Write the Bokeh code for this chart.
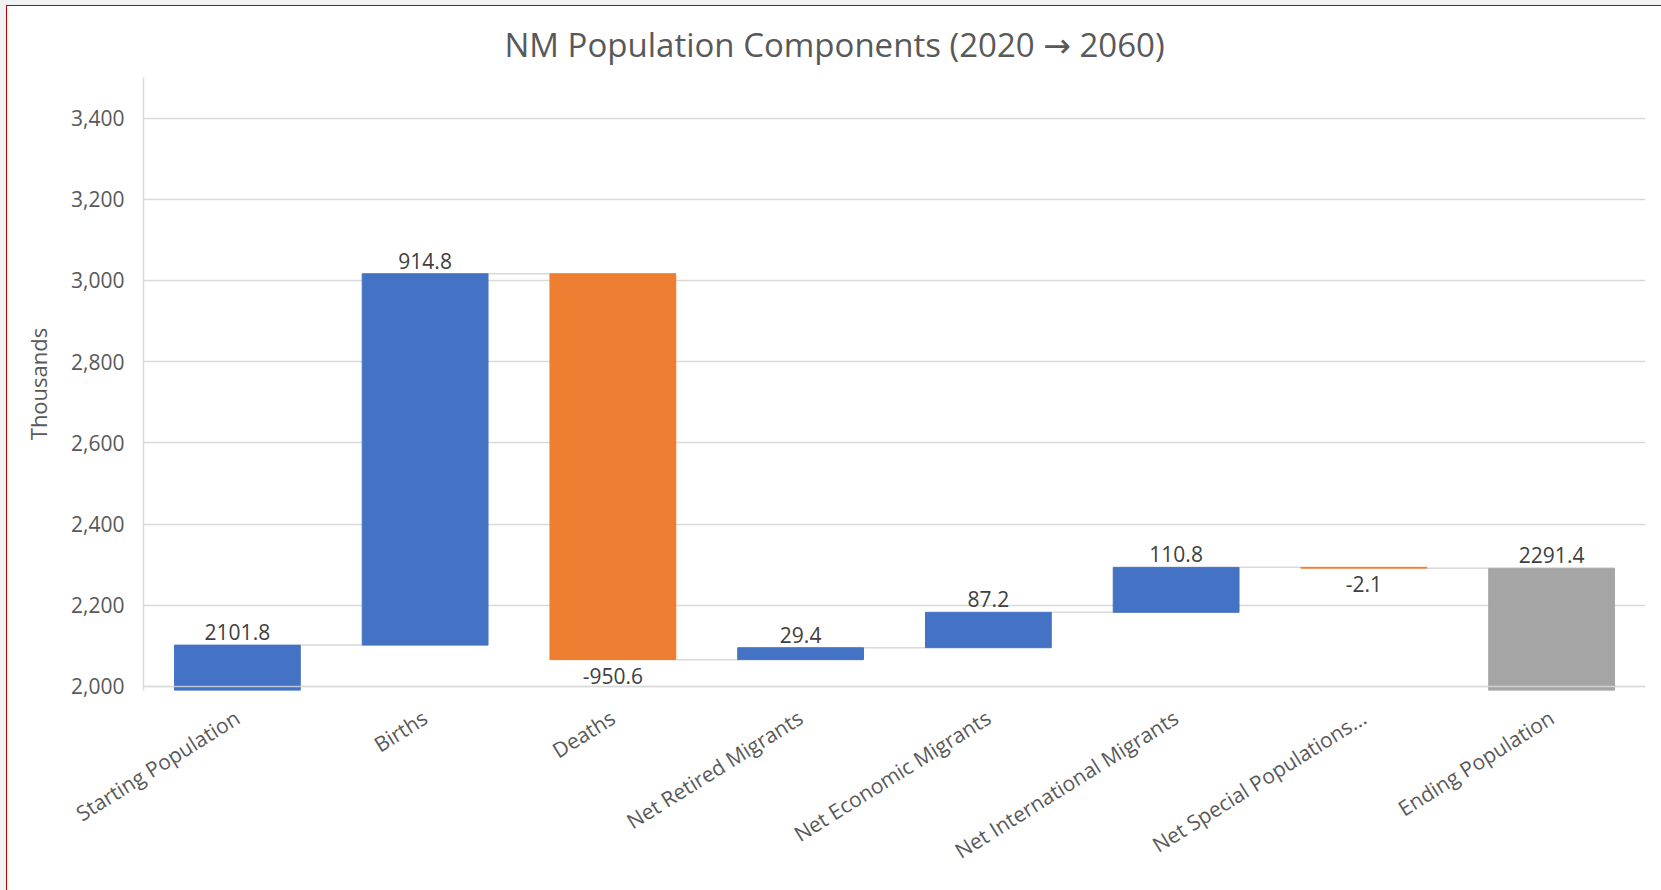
import math

from bokeh.plotting import figure
from bokeh.models import ColumnDataSource, NumeralTickFormatter, FixedTicker, Span
from bokeh.layouts import column
from bokeh.embed import file_html
from bokeh.resources import INLINE
from bokeh.core.properties import value

# --- data (thousands of people) -------------------------------------------
categories = [
    "Starting Population",
    "Births",
    "Deaths",
    "Net Retired Migrants",
    "Net Economic Migrants",
    "Net International Migrants",
    "Net Special Populations...",
    "Ending Population",
]
changes = [2101.8, 914.8, -950.6, 29.4, 87.2, 110.8, -2.1, 2291.4]
is_total = [False, False, False, False, False, False, False, True]
y_ticks = [2000, 2200, 2400, 2600, 2800, 3000, 3200, 3400]

# --- styling ----------------------------------------------------------------
FONT = "Open Sans"
BLUE, ORANGE, GREY = "#4472C4", "#ED7D31", "#A5A5A5"
AXIS_TEXT = "#595959"
LABEL_TEXT = "#404040"
GRID = "#D9D9D9"
BAR_W = 0.67

# --- waterfall geometry -----------------------------------------------------
bottoms, tops, colors = [], [], []
lab_y, lab_txt, lab_off = [], [], []
levels = []
running = 0.0
for v, tot in zip(changes, is_total):
    if tot:
        b, t = 0.0, v
        running = v
        colors.append(GREY)
    else:
        b, t = running, running + v
        running += v
        colors.append(BLUE if v >= 0 else ORANGE)
    bottoms.append(b)
    tops.append(t)
    levels.append(running)
    lab_txt.append(f"{v:.1f}")
    lab_y.append(t)
    # screen offset: negative moves the label up, positive moves it down
    lab_off.append(-13 if v >= 0 else 16)

bars = ColumnDataSource(dict(x=categories, bottom=bottoms, top=tops, color=colors))
labels = ColumnDataSource(dict(x=categories, y=lab_y, text=lab_txt, off=lab_off))

n = len(categories)
conn = ColumnDataSource(dict(
    x0=[i + 0.5 + BAR_W / 2 for i in range(n - 1)],
    x1=[i + 1.5 - BAR_W / 2 for i in range(n - 1)],
    y=levels[:-1],
))

# --- figure -----------------------------------------------------------------
p = figure(
    x_range=categories,
    y_range=(1990, 3500),
    width=1654,
    height=884,
    output_backend="svg",
    toolbar_location=None,
    min_border_left=136,
    min_border_right=16,
    min_border_top=71,
    min_border_bottom=200,
    background_fill_color="white",
    border_fill_color="white",
    outline_line_color=None,
    title="NM Population Components (2020 \u2192 2060)",
)
p.styles = {"background-color": "white"}

p.title.align = "left"
p.title.offset = 361
p.title.text_font = "Open Sans, DejaVu Sans"
p.title.text_font_size = "33px"
p.title.text_font_style = "normal"
p.title.text_color = AXIS_TEXT
p.title.standoff = 21

# grid
p.xgrid.grid_line_color = None
p.ygrid.ticker = FixedTicker(ticks=y_ticks)
p.ygrid.grid_line_color = GRID
p.ygrid.grid_line_width = 1.5

# y axis
p.yaxis.ticker = FixedTicker(ticks=y_ticks)
p.yaxis.formatter = NumeralTickFormatter(format="0,0")
p.yaxis.axis_line_color = GRID
p.yaxis.axis_line_width = 1.5
p.yaxis.major_tick_line_color = None
p.yaxis.minor_tick_line_color = None
p.yaxis.major_label_standoff = 13
p.yaxis.major_label_text_font = FONT
p.yaxis.major_label_text_font_size = "21px"
p.yaxis.major_label_text_color = AXIS_TEXT
p.yaxis.axis_label = "Thousands"
p.yaxis.axis_label_text_font = FONT
p.yaxis.axis_label_text_font_size = "22px"
p.yaxis.axis_label_text_font_style = "normal"
p.yaxis.axis_label_text_color = AXIS_TEXT
p.yaxis.axis_label_standoff = 15

# x axis
p.xaxis.axis_line_color = None
p.xaxis.major_tick_line_color = None
p.xaxis.minor_tick_line_color = None
p.xaxis.major_label_orientation = math.radians(32)
p.xaxis.major_label_standoff = 19
p.xaxis.major_label_text_font = FONT
p.xaxis.major_label_text_font_size = "21px"
p.xaxis.major_label_text_color = AXIS_TEXT

# connectors between consecutive bars
p.segment(x0="x0", y0="y", x1="x1", y1="y", source=conn,
          line_color=GRID, line_width=1.5)

# bars
p.vbar(x="x", bottom="bottom", top="top", width=BAR_W, source=bars,
       fill_color="color", line_color="color", line_width=1)

# category baseline drawn over the bars
p.add_layout(Span(location=2000, dimension="width", line_color=GRID,
                  line_width=1.5, line_alpha=0.8, level="overlay"))

# value labels
p.text(x="x", y="y", text="text", source=labels, y_offset="off",
       text_align="center", text_baseline="middle",
       text_font=value(FONT), text_font_size="21px", text_color=LABEL_TEXT)

inner = column(p, styles={"background-color": "#C00000", "padding": "1px 0 0 1px"})
page = column(inner, styles={"background-color": "#F2F2F2", "padding": "5px 0 0 6px"})

open("out.html", "w").write(file_html(page, INLINE))
